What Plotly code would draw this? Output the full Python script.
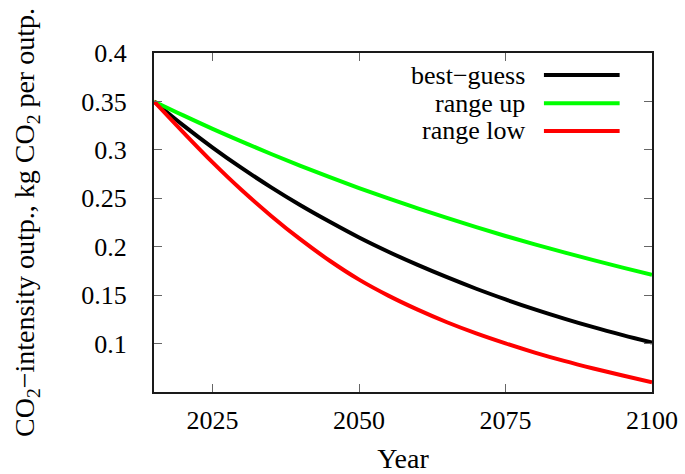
import plotly.graph_objects as go

years = [2015, 2020, 2025, 2030, 2035, 2040, 2045, 2050, 2055, 2060,
         2065, 2070, 2075, 2080, 2085, 2090, 2095, 2100]
best_guess = [0.3500, 0.3253, 0.3024, 0.2811, 0.2613, 0.2428, 0.2257, 0.2095,
              0.1948, 0.1812, 0.1685, 0.1566, 0.1456, 0.1353, 0.1258, 0.1169,
              0.1087, 0.1010]
range_up = [0.3500, 0.3356, 0.3217, 0.3085, 0.2957, 0.2835, 0.2718, 0.2606,
            0.2499, 0.2396, 0.2297, 0.2202, 0.2111, 0.2024, 0.1941, 0.1861,
            0.1784, 0.1710]
range_low = [0.3500, 0.3180, 0.2870, 0.2582, 0.2318, 0.2075, 0.1855, 0.1660,
             0.1495, 0.1350, 0.1220, 0.1105, 0.1002, 0.0907, 0.0821, 0.0743,
             0.0670, 0.0600]

series_names = ["best\u2212guess", "range up", "range low"]
series_values = [best_guess, range_up, range_low]
series_colors = ["#000000", "#00ff00", "#ff0000"]

x_ticks = [2025, 2050, 2075, 2100]
y_ticks = [0.1, 0.15, 0.2, 0.25, 0.3, 0.35, 0.4]
y_tick_labels = ["0.1", "0.15", "0.2", "0.25", "0.3", "0.35", "0.4"]

FONT = "Liberation Serif, Times New Roman, serif"

fig = go.Figure()
for name, vals, col in zip(series_names, series_values, series_colors):
    fig.add_trace(go.Scatter(x=years, y=vals, mode="lines", name=name,
                             line=dict(color=col, width=4, shape="spline"),
                             showlegend=False))

# custom gnuplot-like legend (text right-aligned, line sample to the right)
leg_y = [0.935, 0.852, 0.770]
for name, col, yy in zip(series_names, series_colors, leg_y):
    fig.add_annotation(x=0.749, y=yy, xref="paper", yref="paper", text=name,
                       showarrow=False, xanchor="right", yanchor="middle",
                       font=dict(family=FONT, size=26, color="#000000"))
    fig.add_shape(type="line", xref="paper", yref="paper",
                  x0=0.783, x1=0.935, y0=yy, y1=yy,
                  line=dict(color=col, width=4))

axis_common = dict(showline=True, linecolor="#1a1a1a", linewidth=2,
                   mirror="allticks", ticks="inside", ticklen=8,
                   tickcolor="#666666", tickwidth=1, showgrid=False,
                   zeroline=False, automargin=False,
                   tickfont=dict(family=FONT, size=26, color="#000000"))

fig.update_xaxes(range=[2015, 2100], tickvals=x_ticks,
                 ticklabelstandoff=4,
                 title=dict(text="Year", standoff=22,
                            font=dict(family=FONT, size=28, color="#000000")),
                 **axis_common)
fig.update_yaxes(range=[0.05, 0.4], tickvals=y_ticks, ticktext=y_tick_labels,
                 ticklabelstandoff=20,
                 title=dict(text="CO<sub>2</sub>\u2212intensity outp., kg CO<sub>2</sub> per outp.",
                            standoff=38,
                            font=dict(family=FONT, size=28, color="#000000")),
                 **axis_common)

fig.update_layout(width=685, height=474,
                  margin=dict(l=154, r=33, t=53, b=82, autoexpand=False),
                  plot_bgcolor="white", paper_bgcolor="white")

fig.write_html("out.html", config={"displayModeBar": False},
               post_script="document.body.style.margin='0';document.body.style.padding='0';")
